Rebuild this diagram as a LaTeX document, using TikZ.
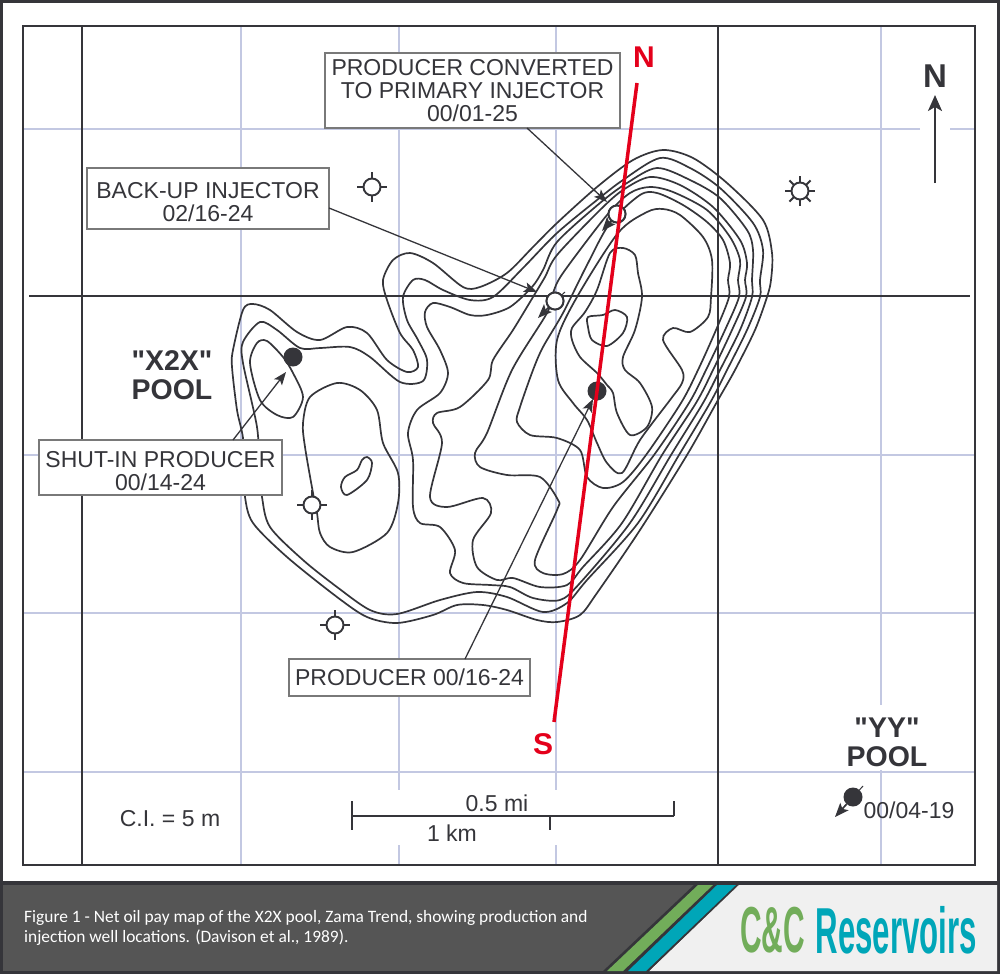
\documentclass[tikz,border=0pt]{standalone}
\usepackage{fontspec}
\setmainfont{Liberation Sans}
\newfontfamily\poolfont{Liberation Sans}
\newfontfamily\capfont{Carlito}
\usetikzlibrary{arrows.meta,positioning}
\definecolor{inkgray}{HTML}{35353A}
\definecolor{gridblue}{HTML}{C3C8E2}
\definecolor{linered}{HTML}{E4001B}
\definecolor{footgray}{HTML}{555555}
\definecolor{footlight}{HTML}{F0F0F0}
\definecolor{stripegreen}{HTML}{72AD5A}
\definecolor{stripeblue}{HTML}{00A6B8}
\tikzset{
	gridline/.style={draw=gridblue,line width=1.4pt},
	mapline/.style={draw=inkgray,line width=1.5pt},
	contour/.style={draw=inkgray,line width=1.7pt},
	callout/.style={draw=inkgray,line width=1.3pt,-{Stealth[length=13pt,width=10pt,inset=3pt]}},
	wellarrow/.style={draw=inkgray,line width=1.7pt,-{Stealth[length=14pt,width=11pt,inset=3pt]}},
	labelbox/.style={draw=gray!95!black,line width=2pt,fill=white,inner sep=0pt,outer sep=0pt,align=center,text=inkgray,font=\fontsize{23}{23}\selectfont},
	maplabel/.style={inner sep=0pt,text=inkgray,font=\fontsize{23}{23}\selectfont},
	poollabel/.style={inner sep=0pt,align=center,text=inkgray,font=\poolfont\fontsize{28.5}{29}\selectfont\bfseries},
	drywell/.style={circle,draw=inkgray,line width=1.9pt,fill=white,minimum size=17pt,inner sep=0pt},
	oilwell/.style={circle,fill=inkgray,minimum size=19pt,inner sep=0pt},
	welltick/.style={draw=inkgray,line width=1.9pt},
}
\begin{document}
\begin{tikzpicture}[x=1pt,y=-1pt]
	\useasboundingbox (0,0) rectangle (1000,974);
	\fill[white] (0,0) rectangle (1000,974);
	\foreach \x in {241,399,556}{
		\draw[gridline] (\x,26)--(\x,790);
		\draw[gridline] (\x,845)--(\x,865);
	}
	\draw[gridline] (241,790)--(241,845);
	\draw[gridline] (881,26)--(881,705);
	\draw[gridline] (881,770)--(881,865);
	\draw[gridline] (23,129)--(920,129);
	\draw[gridline] (950,129)--(975,129);
	\foreach \y in {455,613,772}{
		\draw[gridline] (23,\y)--(975,\y);
	}
	\draw[mapline] (82,26)--(82,865);
	\draw[mapline] (718,26)--(718,865);
	\draw[mapline] (29,296)--(970,296);
	\draw[draw=inkgray,line width=2.4pt] (23,26) rectangle (975,865);

	\draw[contour] plot[smooth cycle] coordinates {(663,150) (693,158) (727,183) (763,220) (772,253) (771,280) (767,297) (755,330) (735,370) (718,400) (687,455) (640,530) (597,593) (580,615) (557,622) (537,620) (507,610) (483,605) (457,605) (433,615) (397,623) (367,617) (337,597) (287,557) (253,523) (245,497) (244,470) (243,438) (237,410) (232,367) (233,350) (243,310) (253,304) (270,310) (297,332) (320,340) (347,327) (367,333) (387,360) (407,372) (418,367) (413,350) (400,333) (387,300) (383,280) (393,260) (410,253) (433,263) (463,287) (480,287) (507,273) (533,247) (557,223) (597,187) (633,160)};
	\draw[contour] plot[smooth cycle] coordinates {(660,158) (690,168) (720,188) (753,223) (763,250) (760,280) (760,297) (747,330) (727,370) (710,403) (679,455) (638,523) (587,580) (567,603) (543,612) (507,597) (477,592) (440,600) (397,614) (370,610) (337,587) (303,560) (270,527) (262,497) (259,465) (257,427) (243,363) (243,342) (260,322) (277,330) (300,348) (320,348) (350,347) (370,357) (400,382) (423,381) (427,360) (418,340) (407,320) (403,297) (413,280) (425,280) (443,290) (470,300) (493,297) (523,268) (557,233) (597,200) (623,180)};
	\draw[contour] plot[smooth cycle] coordinates {(657,168) (690,180) (720,198) (747,230) (753,250) (752,280) (752,297) (740,330) (720,370) (703,403) (671,455) (630,523) (580,583) (560,600) (533,598) (510,587) (490,585) (463,583) (450,573) (455,550) (440,527) (420,523) (413,507) (413,460) (408,433) (417,410) (440,393) (448,373) (440,350) (427,327) (425,312) (433,303) (450,307) (470,315) (487,315) (510,307) (532,287) (543,270) (557,242) (600,203) (627,183)};
	\draw[contour] plot[smooth cycle] coordinates {(650,177) (680,185) (713,207) (740,240) (747,263) (745,280) (746,297) (732,330) (713,370) (696,403) (662,455) (622,523) (583,567) (567,585) (540,587) (513,578) (497,580) (477,567) (473,540) (491,513) (483,498) (447,507) (430,497) (442,443) (433,423) (437,413) (460,407) (488,380) (493,360) (513,330) (533,297) (545,277) (557,255) (600,210) (623,190)};
	\draw[contour] plot[smooth cycle] coordinates {(650,187) (673,192) (707,210) (730,237) (740,260) (738,280) (739,297) (725,330) (706,370) (689,403) (654,455) (613,507) (580,560) (563,574) (543,573) (535,560) (557,510) (558,500) (540,477) (507,475) (480,467) (475,453) (487,433) (512,370) (547,313) (553,293) (563,273) (607,215) (630,193)};
	\draw[contour] plot[smooth cycle] coordinates {(657,193) (683,205) (707,222) (723,240) (730,263) (728,280) (729,297) (716,330) (698,370) (681,403) (646,455) (623,482) (603,488) (587,477) (580,450) (557,438) (530,435) (517,422) (520,407) (533,370) (543,347) (563,313) (587,265) (610,223) (640,195)};
	\draw[contour] plot[smooth cycle] coordinates {(663,209) (680,215) (703,237) (712,260) (711,297) (708,317) (690,332) (673,328) (663,340) (682,370) (682,383) (670,400) (640,440) (622,473) (607,463) (597,443) (587,420) (573,403) (558,380) (557,340) (577,297) (618,233) (647,212)};
	\draw[contour] plot[smooth cycle] coordinates {(597,290) (610,253) (623,248) (635,255) (638,273) (642,297) (635,330) (623,357) (625,370) (640,383) (652,407) (647,427) (630,435) (617,413) (613,393) (607,385) (597,373) (580,357) (572,340) (572,328) (585,312)};
	\draw[contour] plot[smooth cycle] coordinates {(588,317) (603,315) (615,310) (627,317) (623,333) (607,346) (592,340) (588,327)};
	\draw[contour] plot[smooth cycle] coordinates {(250,363) (257,343) (267,341) (283,357) (293,373) (303,397) (293,417) (277,415) (260,400)};
	\draw[contour] plot[smooth cycle] coordinates {(303,423) (310,397) (337,383) (360,390) (377,410) (383,443) (398,473) (398,503) (387,533) (353,552) (330,547) (320,533) (317,513) (313,493) (305,447)};
	\draw[contour] plot[smooth cycle] coordinates {(367,457) (372,463) (367,480) (347,495) (341,487) (345,477) (357,470) (362,460)};

	\foreach \w/\px/\py in {D1/372/187,D2/312/505,D3/335/625,D4/800/191,D5/617/214,D6/555/301}{
		\node[drywell] (\w) at (\px,\py) {};
	}
	\foreach \w in {D1,D2,D3}{
		\foreach \a in {0,90,180,270}{
			\draw[welltick] (\w)+(\a:8)--+(\a:15);
		}
	}
	\foreach \a in {0,45,...,315}{
		\draw[welltick] (D4)+(\a:8)--+(\a:15);
	}
	\node[oilwell] (O1) at (293,357) {};
	\node[oilwell] (O2) at (597,391) {};
	\node[oilwell] (O3) at (853,797) {};

	\coordinate (A5) at (602,231);
	\coordinate (A6) at (538,318);
	\coordinate (A7) at (835,817);
	\coordinate (E5) at (628,205);
	\coordinate (E6) at (565,292);
	\coordinate (E7) at (863,786);
	\draw[wellarrow] (D5)--(A5);
	\draw[wellarrow] (D6)--(A6);
	\draw[wellarrow] (O3)--(A7);
	\draw[welltick,line width=1pt] (D5)--(E5);
	\draw[welltick,line width=1pt] (D6)--(E6);
	\draw[welltick,line width=1pt] (O3)--(E7);
	\node[drywell] at (D5) {};
	\node[drywell] at (D6) {};

	\node[labelbox,minimum width=295pt,minimum height=75pt] (B1) at (472.5,90.5) {PRODUCER CONVERTED\\TO PRIMARY INJECTOR\\00/01-25};
	\node[labelbox,minimum width=242pt,minimum height=61pt] (B2) at (208,198.5) {\rule{0pt}{22.5pt}BACK-UP INJECTOR\\02/16-24};
	\node[labelbox,minimum width=243pt,minimum height=55pt] (B3) at (160.5,467.5) {\rule{0pt}{22.5pt}SHUT-IN PRODUCER\\00/14-24};
	\node[labelbox,minimum width=241pt,minimum height=37pt] (B4) at (409.5,677.5) {PRODUCER 00/16-24};
	\coordinate (T1) at (607,202);
	\coordinate (T2) at (537,292);
	\coordinate (T3) at (286,372);
	\coordinate (T4) at (593,399);
	\draw[callout] ([xshift=54.5pt]B1.south)--(T1);
	\draw[callout] ([yshift=-9.5pt]B2.east)--(T2);
	\draw[callout] ([xshift=72.5pt]B3.north)--(T3);
	\draw[callout] ([xshift=55.5pt]B4.north)--(T4);

	\coordinate (RN) at (637,83);
	\coordinate (RS) at (554,722);
	\draw[draw=linered,line width=3.5pt] (RN)--(RS);
	\node[inner sep=0pt,text=linered,font=\fontsize{30}{30}\selectfont\bfseries] (LN) at (644,57) {N};
	\node[inner sep=0pt,text=linered,font=\fontsize{30}{30}\selectfont\bfseries] (LS) at (543,744) {S};

	\node[inner sep=0pt,text=inkgray,font=\fontsize{33}{33}\selectfont\bfseries] (NN) at (935,76) {N};
	\coordinate (NB) at (935,183);
	\coordinate (NT) at (935,95);
	\draw[draw=inkgray,line width=2.2pt,-{Stealth[length=16pt,width=14pt,inset=4pt]}] (NB)--(NT);

	\node[poollabel] (P1) at (172,375) {"X2X"\\POOL};
	\node[poollabel] (P2) at (887,742) {"YY"\\POOL};
	\node[maplabel] (CI) at (170,819) {C.I. = 5 m};
	\node[maplabel] (YD) at (909,810) {00/04-19};
	\node[maplabel] (MI) at (497,803) {0.5 mi};
	\node[maplabel] (KM) at (452,833) {1 km};

	\coordinate (S1) at (352,816);
	\coordinate (S2) at (674,816);
	\coordinate (S3) at (550,816);
	\draw[mapline] (S1)--(S2);
	\draw[mapline] (352,801)--(352,830);
	\draw[mapline] (S2)--(674,801);
	\draw[mapline] (S3)--(550,830);

	\draw[draw=inkgray,line width=3pt] (1.5,1.5) rectangle (998.5,972.5);

	\fill[inkgray] (0,881) rectangle (1000,974);
	\fill[footgray] (3,885) rectangle (997,971);
	\fill[footlight] (739,885)--(997,885)--(997,971)--(649,971)--cycle;
	\fill[inkgray] (695,884)--(739,884)--(649,971)--(603,971)--cycle;
	\fill[stripegreen] (698,885)--(713,885)--(623,971)--(607,971)--cycle;
	\fill[stripeblue] (717,885)--(736,885)--(646,971)--(628,971)--cycle;

	\node[anchor=west,inner sep=0pt,text=white,font=\capfont\fontsize{17.4}{17.4}\selectfont] (C1) at (24,918) {Figure 1 - Net oil pay map of the X2X pool, Zama Trend, showing production and};
	\node[anchor=west,inner sep=0pt,text=white,font=\capfont\fontsize{17.4}{17.4}\selectfont] (C2) at (24,938) {injection well locations. (Davison et al., 1989).};

	\node[anchor=west,inner sep=0pt,text=stripegreen,font=\fontsize{65}{65}\selectfont\bfseries] (L1) at (740,930) {\scalebox{.46}[1]{C\&C}};
	\node[anchor=east,inner sep=0pt,text=stripeblue,font=\fontsize{65}{65}\selectfont\bfseries] (L2) at (977,930) {\scalebox{.48}[1]{Reservoirs}};
\end{tikzpicture}
\end{document}
